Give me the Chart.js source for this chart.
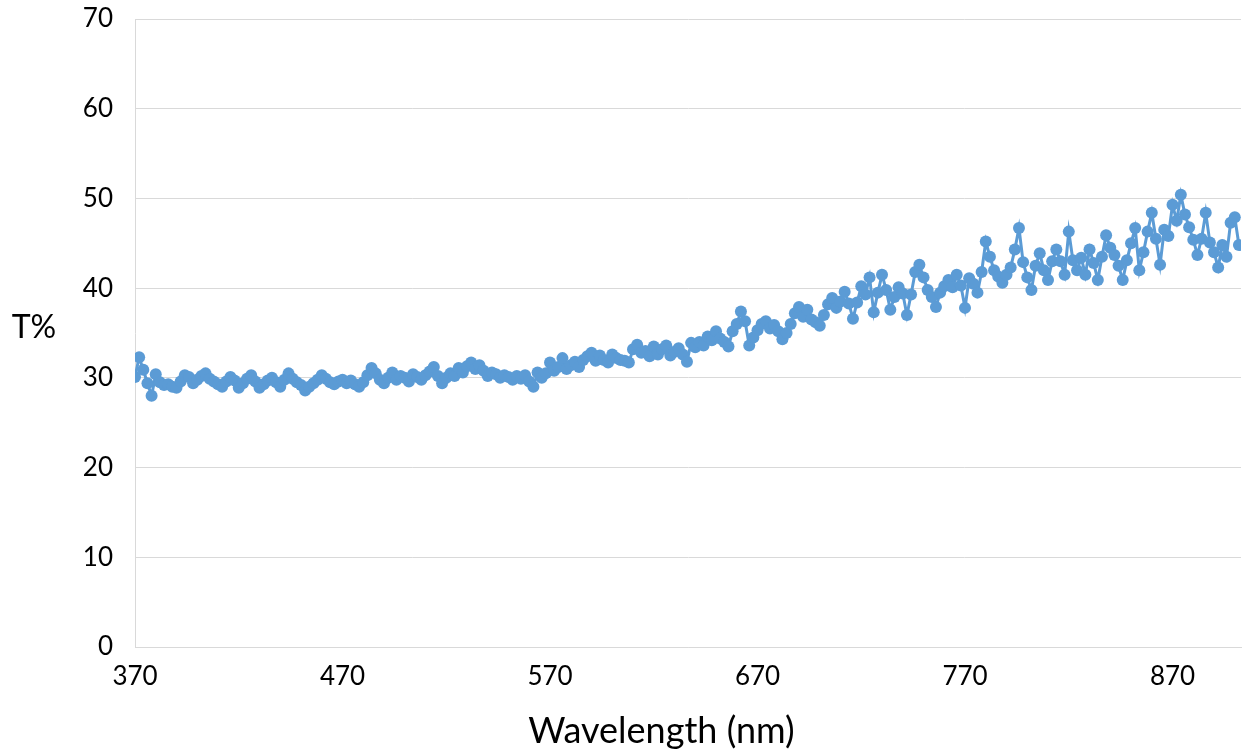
<!DOCTYPE html>
<html>
<head>
<meta charset="utf-8">
<script src="https://cdn.jsdelivr.net/npm/chart.js@4.4.1/dist/chart.umd.min.js"></script>
<style>
  body { margin: 0; background: #fff; }
  #wrap { width: 1250px; height: 755px; }
</style>
</head>
<body>
<div id="wrap"><canvas id="myChart"></canvas></div>
<script>
// wavelength (nm), every 2 nm
const wavelengths = [
  370, 372, 374, 376, 378, 380, 382, 384, 386, 388,
  390, 392, 394, 396, 398, 400, 402, 404, 406, 408,
  410, 412, 414, 416, 418, 420, 422, 424, 426, 428,
  430, 432, 434, 436, 438, 440, 442, 444, 446, 448,
  450, 452, 454, 456, 458, 460, 462, 464, 466, 468,
  470, 472, 474, 476, 478, 480, 482, 484, 486, 488,
  490, 492, 494, 496, 498, 500, 502, 504, 506, 508,
  510, 512, 514, 516, 518, 520, 522, 524, 526, 528,
  530, 532, 534, 536, 538, 540, 542, 544, 546, 548,
  550, 552, 554, 556, 558, 560, 562, 564, 566, 568,
  570, 572, 574, 576, 578, 580, 582, 584, 586, 588,
  590, 592, 594, 596, 598, 600, 602, 604, 606, 608,
  610, 612, 614, 616, 618, 620, 622, 624, 626, 628,
  630, 632, 634, 636, 638, 640, 642, 644, 646, 648,
  650, 652, 654, 656, 658, 660, 662, 664, 666, 668,
  670, 672, 674, 676, 678, 680, 682, 684, 686, 688,
  690, 692, 694, 696, 698, 700, 702, 704, 706, 708,
  710, 712, 714, 716, 718, 720, 722, 724, 726, 728,
  730, 732, 734, 736, 738, 740, 742, 744, 746, 748,
  750, 752, 754, 756, 758, 760, 762, 764, 766, 768,
  770, 772, 774, 776, 778, 780, 782, 784, 786, 788,
  790, 792, 794, 796, 798, 800, 802, 804, 806, 808,
  810, 812, 814, 816, 818, 820, 822, 824, 826, 828,
  830, 832, 834, 836, 838, 840, 842, 844, 846, 848,
  850, 852, 854, 856, 858, 860, 862, 864, 866, 868,
  870, 872, 874, 876, 878, 880, 882, 884, 886, 888,
  890, 892, 894, 896, 898, 900, 902
];

// transmission T%
const transmission = [
  30.1, 32.3, 30.9, 29.4, 28.0, 30.4, 29.5, 29.2, 29.3, 29.0,
  28.9, 29.6, 30.3, 30.1, 29.4, 29.8, 30.2, 30.5, 29.9, 29.6,
  29.3, 29.0, 29.6, 30.1, 29.7, 28.9, 29.4, 29.9, 30.3, 29.6,
  28.9, 29.3, 29.7, 30.0, 29.5, 29.0, 29.8, 30.5, 29.9, 29.5,
  29.2, 28.6, 29.0, 29.4, 29.8, 30.3, 29.9, 29.5, 29.3, 29.6,
  29.8, 29.4, 29.7, 29.3, 29.0, 29.5, 30.3, 31.1, 30.5, 29.8,
  29.4, 30.0, 30.6, 29.8, 30.2, 30.0, 29.6, 30.4, 30.1, 29.8,
  30.3, 30.7, 31.2, 30.2, 29.4, 30.0, 30.5, 30.2, 31.1, 30.6,
  31.3, 31.7, 31.0, 31.4, 30.8, 30.2, 30.6, 30.4, 30.0, 30.3,
  30.1, 29.8, 30.2, 29.9, 30.3, 29.6, 29.0, 30.6, 30.0, 30.5,
  31.7, 30.8, 31.2, 32.2, 31.0, 31.4, 31.8, 31.2, 32.0, 32.4,
  32.8, 31.9, 32.5, 32.0, 31.7, 32.6, 32.2, 32.0, 31.9, 31.7,
  33.2, 33.7, 32.8, 33.0, 32.4, 33.5, 32.6, 33.2, 33.6, 32.5,
  32.9, 33.3, 32.6, 31.8, 33.9, 33.4, 34.0, 33.6, 34.6, 34.2,
  35.2, 34.4, 34.0, 33.5, 35.2, 36.0, 37.4, 36.3, 33.6, 34.5,
  35.3, 36.0, 36.3, 35.5, 35.9, 35.2, 34.3, 35.0, 36.0, 37.2,
  37.9, 36.8, 37.6, 36.5, 36.2, 35.8, 37.0, 38.2, 38.9, 37.8,
  38.5, 39.6, 38.3, 36.6, 38.4, 40.2, 39.3, 41.2, 37.3, 39.5,
  41.5, 39.8, 37.6, 39.0, 40.1, 39.4, 37.0, 39.3, 41.8, 42.6,
  41.2, 39.8, 39.0, 37.9, 39.5, 40.2, 40.9, 40.1, 41.5, 40.3,
  37.8, 41.1, 40.5, 39.5, 41.8, 45.2, 43.5, 42.0, 41.3, 40.6,
  41.5, 42.3, 44.3, 46.7, 42.9, 41.2, 39.8, 42.5, 43.9, 42.0,
  40.9, 43.0, 44.3, 43.0, 41.5, 46.3, 43.1, 42.0, 43.4, 41.5,
  44.3, 42.8, 40.9, 43.5, 45.9, 44.5, 43.7, 42.5, 40.9, 43.1,
  45.0, 46.7, 42.0, 44.0, 46.3, 48.4, 45.5, 42.6, 46.5, 45.8,
  49.3, 47.5, 50.4, 48.2, 46.8, 45.4, 43.7, 45.5, 48.4, 45.1,
  44.0, 42.3, 44.8, 43.5, 47.3, 47.9, 44.8
];

const xTicks = [370, 470, 570, 670, 770, 870];
const yTicks = [0, 10, 20, 30, 40, 50, 60, 70];

const blue = '#5B9BD5';
const tickFont = { family: 'Lato', size: 26 };

const points = wavelengths.map((w, i) => ({ x: w, y: transmission[i] }));

// axis titles: T% sits horizontally left of the plot, Wavelength a bit left of centre
const axisTitles = {
    id: 'axisTitles',
    afterDraw(chart) {
        const ctx = chart.ctx;
        const area = chart.chartArea;
        ctx.save();
        ctx.fillStyle = '#000';
        ctx.textAlign = 'center';
        ctx.textBaseline = 'middle';
        ctx.font = '32px Lato';
        ctx.fillText('T%', 34, (area.top + area.bottom) / 2 - 5);
        ctx.font = '36px Lato';
        ctx.fillText('Wavelength (nm)', area.left + (area.right - area.left) * 0.476, 731);
        ctx.restore();
    }
};

const ctx = document.getElementById('myChart').getContext('2d');
const myChart = new Chart(ctx, {
    type: 'line',
    data: {
        datasets: [{
            label: 'T%',
            data: points,
            borderColor: blue,
            backgroundColor: blue,
            borderWidth: 3,
            pointRadius: 6,
            pointBorderWidth: 0,
            pointBackgroundColor: blue,
            tension: 0
        }]
    },
    options: {
        responsive: true,
        maintainAspectRatio: false,
        animation: false,
        layout: { padding: { top: 19, right: 9, left: 0, bottom: 0 } },
        plugins: {
            legend: { display: false },
            tooltip: { enabled: false }
        },
        scales: {
            x: {
                type: 'linear',
                min: 370,
                max: 903,
                afterBuildTicks: scale => { scale.ticks = xTicks.map(v => ({ value: v })); },
                afterFit: scale => {
                    scale.height = 108;
                    scale.paddingLeft = 0;
                    scale.paddingRight = 0;
                },
                grid: { display: false, drawTicks: false },
                border: { display: true, color: '#D9D9D9', width: 1 },
                ticks: { color: '#000', font: tickFont, padding: 14, maxRotation: 0 }
            },
            y: {
                min: 0,
                max: 70,
                afterBuildTicks: scale => { scale.ticks = yTicks.map(v => ({ value: v })); },
                afterFit: scale => {
                    scale.width = 135;
                    scale.paddingTop = 0;
                    scale.paddingBottom = 0;
                },
                grid: { color: '#D9D9D9', lineWidth: 1, drawTicks: false },
                border: { display: true, color: '#D9D9D9', width: 1 },
                ticks: { color: '#000', font: tickFont, padding: 22 }
            }
        }
    },
    plugins: [axisTitles]
});
</script>
</body>
</html>
